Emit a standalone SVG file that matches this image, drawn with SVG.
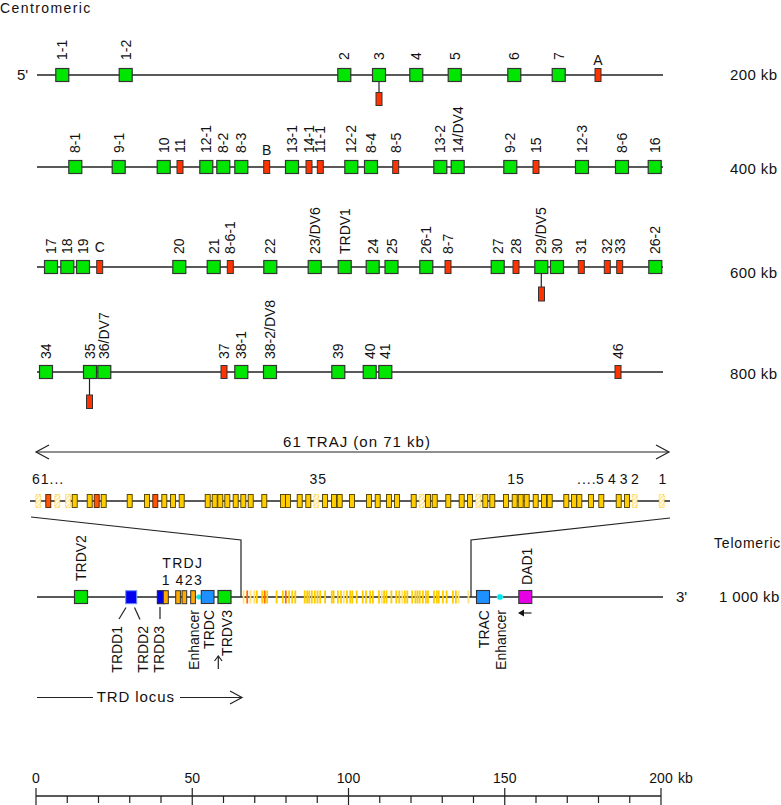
<svg xmlns="http://www.w3.org/2000/svg" width="781" height="805" viewBox="0 0 781 805">
<defs>
<pattern id="hatch" patternUnits="userSpaceOnUse" width="3" height="3" patternTransform="rotate(45)">
<rect width="3" height="3" fill="#fffbe6"/><line x1="0" y1="0" x2="0" y2="3" stroke="#ffd24d" stroke-width="1.4"/>
</pattern>
<style>
.bb{stroke:#222;stroke-width:1.4;fill:none}
.cn{stroke:#222;stroke-width:1.2;fill:none}
.g{fill:#00e600;stroke:#333;stroke-width:1.2}
.r{fill:#ff3300;stroke:#333;stroke-width:1}
.y{fill:#ffcc00;stroke:#4d3d00;stroke-width:0.9}
.o{fill:#ff5500;stroke:#4d2000;stroke-width:0.9}
.h{fill:url(#hatch);stroke:#ffd24d;stroke-width:0.9;stroke-dasharray:2 1}
.by{fill:#ffcc00}.bo{fill:#ff6a00}.bh{fill:#ffe27a}
.jd{fill:#ffaa00;stroke:#333;stroke-width:1}
.t{font-family:"Liberation Sans",Arial,sans-serif;font-size:14px;fill:#111}
.k{font-family:"Liberation Sans",Arial,sans-serif;font-size:15px;fill:#111}
</style>
</defs>
<rect width="781" height="805" fill="#fff"/>

<g id="headers">
<text class="t" x="0" y="13" letter-spacing="1.4">Centromeric</text>
<text class="t" x="714" y="548" letter-spacing="0.8">Telomeric</text>
<text class="k" x="17" y="80">5'</text>
<text class="k" x="676" y="602">3'</text>
<text class="k" x="730" y="80" letter-spacing="0.4">200 kb</text>
<text class="k" x="730" y="174" letter-spacing="0.4">400 kb</text>
<text class="k" x="730" y="278" letter-spacing="0.4">600 kb</text>
<text class="k" x="730" y="379" letter-spacing="0.4">800 kb</text>
<text class="k" x="719" y="602" letter-spacing="0.4">1 000 kb</text>
</g>

<g id="backbones">
<line class="bb" x1="37" y1="75" x2="663" y2="75"/>
<line class="bb" x1="37" y1="167" x2="663" y2="167"/>
<line class="bb" x1="37" y1="267" x2="663" y2="267"/>
<line class="bb" x1="37" y1="372" x2="663" y2="372"/>
<line class="bb" x1="30" y1="501" x2="670" y2="501"/>
<line class="bb" x1="37" y1="597" x2="663" y2="597"/>
</g>

<g id="connectors">
<line class="cn" x1="379" y1="81.5" x2="379" y2="92.5"/>
<line class="cn" x1="541.3" y1="273.5" x2="541.3" y2="287"/>
<line class="cn" x1="89.5" y1="378.5" x2="89.5" y2="395"/>
<polyline class="cn" points="31,517 241,540 241,597"/>
<polyline class="cn" points="670,518 471,540 471,597"/>
<line class="cn" x1="126" y1="607.5" x2="119" y2="619"/>
<line class="cn" x1="134.5" y1="607.5" x2="140" y2="619.5"/>
<line class="cn" x1="160" y1="607" x2="160" y2="619"/>
<line class="cn" x1="36" y1="452" x2="669" y2="452"/>
<polyline class="cn" points="49,445 36,452 49,459"/>
<polyline class="cn" points="656,445 669,452 656,459"/>
<line class="cn" x1="37" y1="697.5" x2="93" y2="697.5"/>
<line class="cn" x1="180" y1="697.5" x2="242" y2="697.5"/>
<polyline class="cn" points="230,691 242,697.5 230,704"/>
<line class="cn" x1="218.3" y1="669" x2="218.3" y2="656"/>
<polyline class="cn" points="214.5,661 218.3,656 222.1,661"/>
<line class="cn" x1="531.5" y1="613" x2="522" y2="613"/>
<polygon points="518,613 524,609.5 524,616.5" fill="#111"/>
</g>

<g id="row1">
<g id="TRAV1-1"><rect class="g" x="55.8" y="68.5" width="13" height="13"/><text class="t" transform="translate(67.3 60) rotate(-90)">1-1</text></g>
<g id="TRAV1-2"><rect class="g" x="119.2" y="68.5" width="13" height="13"/><text class="t" transform="translate(130.7 60) rotate(-90)">1-2</text></g>
<g id="TRAV2"><rect class="g" x="337.8" y="68.5" width="13" height="13"/><text class="t" transform="translate(349.3 60) rotate(-90)">2</text></g>
<g id="TRAV3"><rect class="g" x="372.5" y="68.5" width="13" height="13"/><text class="t" transform="translate(384 60) rotate(-90)">3</text><rect class="r" x="376" y="92.5" width="6" height="13"/></g>
<g id="TRAV4"><rect class="g" x="409.8" y="68.5" width="13" height="13"/><text class="t" transform="translate(421.3 60) rotate(-90)">4</text></g>
<g id="TRAV5"><rect class="g" x="448.2" y="68.5" width="13" height="13"/><text class="t" transform="translate(459.7 60) rotate(-90)">5</text></g>
<g id="TRAV6"><rect class="g" x="507.8" y="68.5" width="13" height="13"/><text class="t" transform="translate(519.3 60) rotate(-90)">6</text></g>
<g id="TRAV7"><rect class="g" x="552.2" y="68.5" width="13" height="13"/><text class="t" transform="translate(563.7 60) rotate(-90)">7</text></g>
<g id="TRAVA"><rect class="r" x="595" y="68.5" width="6" height="13"/><text class="t" x="598" y="65" text-anchor="middle">A</text></g>
</g>

<g id="row2">
<g id="TRAV8-1"><rect class="g" x="68.8" y="160.5" width="13" height="13"/><text class="t" transform="translate(80.3 153) rotate(-90)">8-1</text></g>
<g id="TRAV9-1"><rect class="g" x="112.2" y="160.5" width="13" height="13"/><text class="t" transform="translate(123.7 153) rotate(-90)">9-1</text></g>
<g id="TRAV10"><rect class="g" x="157.2" y="160.5" width="13" height="13"/><text class="t" transform="translate(168.7 153) rotate(-90)">10</text></g>
<g id="TRAV11"><rect class="r" x="177" y="160.5" width="6" height="13"/><text class="t" transform="translate(185 153) rotate(-90)">11</text></g>
<g id="TRAV12-1"><rect class="g" x="199.8" y="160.5" width="13" height="13"/><text class="t" transform="translate(211.3 153) rotate(-90)">12-1</text></g>
<g id="TRAV8-2"><rect class="g" x="216.8" y="160.5" width="13" height="13"/><text class="t" transform="translate(228.3 153) rotate(-90)">8-2</text></g>
<g id="TRAV8-3"><rect class="g" x="234.8" y="160.5" width="13" height="13"/><text class="t" transform="translate(246.3 153) rotate(-90)">8-3</text></g>
<g id="TRAVB"><rect class="r" x="263.7" y="160.5" width="6" height="13"/><text class="t" x="266.7" y="155" text-anchor="middle">B</text></g>
<g id="TRAV13-1"><rect class="g" x="285.5" y="160.5" width="13" height="13"/><text class="t" transform="translate(297 153) rotate(-90)">13-1</text></g>
<g id="TRAV14-1"><rect class="r" x="306" y="160.5" width="6" height="13"/><text class="t" transform="translate(314 153) rotate(-90)">14-1</text></g>
<g id="TRAV11-1"><rect class="r" x="317.3" y="160.5" width="6" height="13"/><text class="t" transform="translate(325.3 153) rotate(-90)">11-1</text></g>
<g id="TRAV12-2"><rect class="g" x="344.8" y="160.5" width="13" height="13"/><text class="t" transform="translate(356.3 153) rotate(-90)">12-2</text></g>
<g id="TRAV8-4"><rect class="g" x="364.5" y="160.5" width="13" height="13"/><text class="t" transform="translate(376 153) rotate(-90)">8-4</text></g>
<g id="TRAV8-5"><rect class="r" x="392.7" y="160.5" width="6" height="13"/><text class="t" transform="translate(400.7 153) rotate(-90)">8-5</text></g>
<g id="TRAV13-2"><rect class="g" x="433.8" y="160.5" width="13" height="13"/><text class="t" transform="translate(445.3 153) rotate(-90)">13-2</text></g>
<g id="TRAV14DV4"><rect class="g" x="451.2" y="160.5" width="13" height="13"/><text class="t" transform="translate(462.7 153) rotate(-90)">14/DV4</text></g>
<g id="TRAV9-2"><rect class="g" x="503.8" y="160.5" width="13" height="13"/><text class="t" transform="translate(515.3 153) rotate(-90)">9-2</text></g>
<g id="TRAV15"><rect class="r" x="533" y="160.5" width="6" height="13"/><text class="t" transform="translate(541 153) rotate(-90)">15</text></g>
<g id="TRAV12-3"><rect class="g" x="575.5" y="160.5" width="13" height="13"/><text class="t" transform="translate(587 153) rotate(-90)">12-3</text></g>
<g id="TRAV8-6"><rect class="g" x="615.5" y="160.5" width="13" height="13"/><text class="t" transform="translate(627 153) rotate(-90)">8-6</text></g>
<g id="TRAV16"><rect class="g" x="648.2" y="160.5" width="13" height="13"/><text class="t" transform="translate(659.7 153) rotate(-90)">16</text></g>
</g>

<g id="row3">
<g id="TRAV17"><rect class="g" x="44.5" y="260.5" width="13" height="13"/><text class="t" transform="translate(56 254) rotate(-90)">17</text></g>
<g id="TRAV18"><rect class="g" x="60.8" y="260.5" width="13" height="13"/><text class="t" transform="translate(72.3 254) rotate(-90)">18</text></g>
<g id="TRAV19"><rect class="g" x="76.5" y="260.5" width="13" height="13"/><text class="t" transform="translate(88 254) rotate(-90)">19</text></g>
<g id="TRAVC"><rect class="r" x="96.7" y="260.5" width="6" height="13"/><text class="t" x="99.7" y="252" text-anchor="middle">C</text></g>
<g id="TRAV20"><rect class="g" x="172.8" y="260.5" width="13" height="13"/><text class="t" transform="translate(184.3 254) rotate(-90)">20</text></g>
<g id="TRAV21"><rect class="g" x="207.2" y="260.5" width="13" height="13"/><text class="t" transform="translate(218.7 254) rotate(-90)">21</text></g>
<g id="TRAV8-6-1"><rect class="r" x="227.3" y="260.5" width="6" height="13"/><text class="t" transform="translate(235.3 254) rotate(-90)">8-6-1</text></g>
<g id="TRAV22"><rect class="g" x="263.8" y="260.5" width="13" height="13"/><text class="t" transform="translate(275.3 254) rotate(-90)">22</text></g>
<g id="TRAV23DV6"><rect class="g" x="308.2" y="260.5" width="13" height="13"/><text class="t" transform="translate(319.7 254) rotate(-90)">23/DV6</text></g>
<g id="TRDV1"><rect class="g" x="338.2" y="260.5" width="13" height="13"/><text class="t" transform="translate(349.7 254) rotate(-90)">TRDV1</text></g>
<g id="TRAV24"><rect class="g" x="366.2" y="260.5" width="13" height="13"/><text class="t" transform="translate(377.7 254) rotate(-90)">24</text></g>
<g id="TRAV25"><rect class="g" x="385" y="260.5" width="13" height="13"/><text class="t" transform="translate(396.5 254) rotate(-90)">25</text></g>
<g id="TRAV26-1"><rect class="g" x="419.8" y="260.5" width="13" height="13"/><text class="t" transform="translate(431.3 254) rotate(-90)">26-1</text></g>
<g id="TRAV8-7"><rect class="r" x="445" y="260.5" width="6" height="13"/><text class="t" transform="translate(453 254) rotate(-90)">8-7</text></g>
<g id="TRAV27"><rect class="g" x="491.2" y="260.5" width="13" height="13"/><text class="t" transform="translate(502.7 254) rotate(-90)">27</text></g>
<g id="TRAV28"><rect class="r" x="513" y="260.5" width="6" height="13"/><text class="t" transform="translate(521 254) rotate(-90)">28</text></g>
<g id="TRAV29DV5"><rect class="g" x="534.8" y="260.5" width="13" height="13"/><text class="t" transform="translate(546.3 254) rotate(-90)">29/DV5</text><rect class="r" x="538.5" y="287" width="6" height="14"/></g>
<g id="TRAV30"><rect class="g" x="550.5" y="260.5" width="13" height="13"/><text class="t" transform="translate(562 254) rotate(-90)">30</text></g>
<g id="TRAV31"><rect class="r" x="578.3" y="260.5" width="6" height="13"/><text class="t" transform="translate(586.3 254) rotate(-90)">31</text></g>
<g id="TRAV32"><rect class="r" x="604.3" y="260.5" width="6" height="13"/><text class="t" transform="translate(612.3 254) rotate(-90)">32</text></g>
<g id="TRAV33"><rect class="r" x="616.7" y="260.5" width="6" height="13"/><text class="t" transform="translate(624.7 254) rotate(-90)">33</text></g>
<g id="TRAV26-2"><rect class="g" x="648.8" y="260.5" width="13" height="13"/><text class="t" transform="translate(660.3 254) rotate(-90)">26-2</text></g>
</g>

<g id="row4">
<g id="TRAV34"><rect class="g" x="39.5" y="365.5" width="13" height="13"/><text class="t" transform="translate(51 359) rotate(-90)">34</text></g>
<g id="TRAV35"><rect class="g" x="83.5" y="365.5" width="13" height="13"/><text class="t" transform="translate(95 359) rotate(-90)">35</text><rect class="r" x="86.5" y="395" width="6" height="13.5"/></g>
<g id="TRAV36DV7"><rect class="g" x="97.8" y="365.5" width="13" height="13"/><text class="t" transform="translate(109.3 359) rotate(-90)">36/DV7</text></g>
<g id="TRAV37"><rect class="r" x="221" y="365.5" width="6" height="13"/><text class="t" transform="translate(229 359) rotate(-90)">37</text></g>
<g id="TRAV38-1"><rect class="g" x="234.8" y="365.5" width="13" height="13"/><text class="t" transform="translate(246.3 359) rotate(-90)">38-1</text></g>
<g id="TRAV38-2DV8"><rect class="g" x="263.5" y="365.5" width="13" height="13"/><text class="t" transform="translate(275 359) rotate(-90)">38-2/DV8</text></g>
<g id="TRAV39"><rect class="g" x="331.8" y="365.5" width="13" height="13"/><text class="t" transform="translate(343.3 359) rotate(-90)">39</text></g>
<g id="TRAV40"><rect class="g" x="363.2" y="365.5" width="13" height="13"/><text class="t" transform="translate(374.7 359) rotate(-90)">40</text></g>
<g id="TRAV41"><rect class="g" x="378.8" y="365.5" width="13" height="13"/><text class="t" transform="translate(390.3 359) rotate(-90)">41</text></g>
<g id="TRAV46"><rect class="r" x="615" y="365.5" width="6" height="13"/><text class="t" transform="translate(623 359) rotate(-90)">46</text></g>
</g>

<g id="TRAJ-cluster">
<text class="k" x="357" y="446.5" text-anchor="middle" letter-spacing="1">61 TRAJ (on 71 kb)</text>
<text class="t" x="32" y="484" letter-spacing="1">61...</text>
<text class="t" x="318.3" y="484" text-anchor="middle" letter-spacing="1">35</text>
<text class="t" x="516" y="484" text-anchor="middle" letter-spacing="1">15</text>
<text class="t" x="577" y="484" letter-spacing="1">....</text>
<text class="t" x="600" y="484" text-anchor="middle">5</text>
<text class="t" x="612" y="484" text-anchor="middle">4</text>
<text class="t" x="623.7" y="484" text-anchor="middle">3</text>
<text class="t" x="635" y="484" text-anchor="middle">2</text>
<text class="t" x="662.3" y="484" text-anchor="middle">1</text>
<g id="TRAJ-boxes">
<rect class="h" x="35.8" y="494.5" width="5" height="13"/>
<rect class="o" x="45.8" y="494.5" width="5" height="13"/>
<rect class="h" x="54.8" y="494.5" width="5" height="13"/>
<rect class="h" x="65.5" y="494.5" width="5" height="13"/>
<rect class="y" x="72.2" y="494.5" width="5" height="13"/>
<rect class="y" x="87.2" y="494.5" width="5" height="13"/>
<rect class="o" x="94.2" y="494.5" width="5" height="13"/>
<rect class="y" x="101.2" y="494.5" width="5" height="13"/>
<rect class="y" x="127.2" y="494.5" width="5" height="13"/>
<rect class="y" x="144.5" y="494.5" width="5" height="13"/>
<rect class="o" x="152.8" y="494.5" width="5" height="13"/>
<rect class="y" x="161.8" y="494.5" width="5" height="13"/>
<rect class="y" x="170.5" y="494.5" width="5" height="13"/>
<rect class="y" x="179.2" y="494.5" width="5" height="13"/>
<rect class="y" x="205.2" y="494.5" width="5" height="13"/>
<rect class="y" x="212.2" y="494.5" width="5" height="13"/>
<rect class="y" x="217.8" y="494.5" width="5" height="13"/>
<rect class="y" x="224.8" y="494.5" width="5" height="13"/>
<rect class="y" x="233.2" y="494.5" width="5" height="13"/>
<rect class="y" x="240.8" y="494.5" width="5" height="13"/>
<rect class="y" x="248.2" y="494.5" width="5" height="13"/>
<rect class="y" x="261.8" y="494.5" width="5" height="13"/>
<rect class="y" x="280.5" y="494.5" width="5" height="13"/>
<rect class="y" x="285.5" y="494.5" width="5" height="13"/>
<rect class="y" x="297.2" y="494.5" width="5" height="13"/>
<rect class="y" x="305.8" y="494.5" width="5" height="13"/>
<rect class="h" x="313.8" y="494.5" width="5" height="13"/>
<rect class="y" x="322.5" y="494.5" width="5" height="13"/>
<rect class="y" x="331.5" y="494.5" width="5" height="13"/>
<rect class="y" x="337.2" y="494.5" width="5" height="13"/>
<rect class="y" x="349.5" y="494.5" width="5" height="13"/>
<rect class="y" x="366.5" y="494.5" width="5" height="13"/>
<rect class="y" x="375.2" y="494.5" width="5" height="13"/>
<rect class="y" x="386.5" y="494.5" width="5" height="13"/>
<rect class="y" x="394.5" y="494.5" width="5" height="13"/>
<rect class="y" x="411.2" y="494.5" width="5" height="13"/>
<rect class="h" x="419.2" y="494.5" width="5" height="13"/>
<rect class="y" x="425.5" y="494.5" width="5" height="13"/>
<rect class="y" x="432.2" y="494.5" width="5" height="13"/>
<rect class="y" x="445.8" y="494.5" width="5" height="13"/>
<rect class="y" x="459.2" y="494.5" width="5" height="13"/>
<rect class="y" x="467.5" y="494.5" width="5" height="13"/>
<rect class="h" x="475.8" y="494.5" width="5" height="13"/>
<rect class="y" x="482.8" y="494.5" width="5" height="13"/>
<rect class="y" x="489.8" y="494.5" width="5" height="13"/>
<rect class="y" x="503.5" y="494.5" width="5" height="13"/>
<rect class="y" x="512.2" y="494.5" width="5" height="13"/>
<rect class="y" x="518.2" y="494.5" width="5" height="13"/>
<rect class="y" x="524.2" y="494.5" width="5" height="13"/>
<rect class="y" x="533.2" y="494.5" width="5" height="13"/>
<rect class="y" x="541.5" y="494.5" width="5" height="13"/>
<rect class="y" x="547.2" y="494.5" width="5" height="13"/>
<rect class="y" x="563.8" y="494.5" width="5" height="13"/>
<rect class="y" x="571.5" y="494.5" width="5" height="13"/>
<rect class="y" x="576.8" y="494.5" width="5" height="13"/>
<rect class="y" x="588.5" y="494.5" width="5" height="13"/>
<rect class="y" x="598.8" y="494.5" width="5" height="13"/>
<rect class="y" x="616.2" y="494.5" width="5" height="13"/>
<rect class="y" x="624.5" y="494.5" width="5" height="13"/>
<rect class="h" x="632.2" y="494.5" width="5" height="13"/>
<rect class="h" x="659.2" y="494.5" width="5" height="13"/>
</g>
</g>

<g id="TRAJ-compressed">
<rect class="bh" x="242.7" y="590.5" width="1.8" height="13"/>
<rect class="bo" x="246.3" y="590.5" width="1.8" height="13"/>
<rect class="bh" x="249.6" y="590.5" width="1.8" height="13"/>
<rect class="bh" x="253.4" y="590.5" width="1.8" height="13"/>
<rect class="by" x="255.9" y="590.5" width="1.8" height="13"/>
<rect class="by" x="261.3" y="590.5" width="1.8" height="13"/>
<rect class="bo" x="263.8" y="590.5" width="1.8" height="13"/>
<rect class="by" x="266.3" y="590.5" width="1.8" height="13"/>
<rect class="by" x="275.7" y="590.5" width="1.8" height="13"/>
<rect class="by" x="281.9" y="590.5" width="1.8" height="13"/>
<rect class="bo" x="284.9" y="590.5" width="1.8" height="13"/>
<rect class="by" x="288.2" y="590.5" width="1.8" height="13"/>
<rect class="by" x="291.3" y="590.5" width="1.8" height="13"/>
<rect class="by" x="294.4" y="590.5" width="1.8" height="13"/>
<rect class="by" x="303.8" y="590.5" width="1.8" height="13"/>
<rect class="by" x="306.3" y="590.5" width="1.8" height="13"/>
<rect class="by" x="308.3" y="590.5" width="1.8" height="13"/>
<rect class="by" x="310.9" y="590.5" width="1.8" height="13"/>
<rect class="by" x="313.9" y="590.5" width="1.8" height="13"/>
<rect class="by" x="316.6" y="590.5" width="1.8" height="13"/>
<rect class="by" x="319.3" y="590.5" width="1.8" height="13"/>
<rect class="by" x="324.2" y="590.5" width="1.8" height="13"/>
<rect class="by" x="330.9" y="590.5" width="1.8" height="13"/>
<rect class="by" x="332.7" y="590.5" width="1.8" height="13"/>
<rect class="by" x="337" y="590.5" width="1.8" height="13"/>
<rect class="by" x="340.1" y="590.5" width="1.8" height="13"/>
<rect class="bh" x="342.9" y="590.5" width="1.8" height="13"/>
<rect class="by" x="346.1" y="590.5" width="1.8" height="13"/>
<rect class="by" x="349.3" y="590.5" width="1.8" height="13"/>
<rect class="by" x="351.4" y="590.5" width="1.8" height="13"/>
<rect class="by" x="355.8" y="590.5" width="1.8" height="13"/>
<rect class="by" x="361.9" y="590.5" width="1.8" height="13"/>
<rect class="by" x="365.1" y="590.5" width="1.8" height="13"/>
<rect class="by" x="369.2" y="590.5" width="1.8" height="13"/>
<rect class="by" x="372" y="590.5" width="1.8" height="13"/>
<rect class="by" x="378.1" y="590.5" width="1.8" height="13"/>
<rect class="bh" x="380.9" y="590.5" width="1.8" height="13"/>
<rect class="by" x="383.2" y="590.5" width="1.8" height="13"/>
<rect class="by" x="385.6" y="590.5" width="1.8" height="13"/>
<rect class="by" x="390.5" y="590.5" width="1.8" height="13"/>
<rect class="by" x="395.4" y="590.5" width="1.8" height="13"/>
<rect class="by" x="398.4" y="590.5" width="1.8" height="13"/>
<rect class="bh" x="401.4" y="590.5" width="1.8" height="13"/>
<rect class="by" x="403.9" y="590.5" width="1.8" height="13"/>
<rect class="by" x="406.4" y="590.5" width="1.8" height="13"/>
<rect class="by" x="411.3" y="590.5" width="1.8" height="13"/>
<rect class="by" x="414.5" y="590.5" width="1.8" height="13"/>
<rect class="by" x="416.6" y="590.5" width="1.8" height="13"/>
<rect class="by" x="418.8" y="590.5" width="1.8" height="13"/>
<rect class="by" x="422" y="590.5" width="1.8" height="13"/>
<rect class="by" x="425" y="590.5" width="1.8" height="13"/>
<rect class="by" x="427.1" y="590.5" width="1.8" height="13"/>
<rect class="by" x="433.1" y="590.5" width="1.8" height="13"/>
<rect class="by" x="435.9" y="590.5" width="1.8" height="13"/>
<rect class="by" x="437.8" y="590.5" width="1.8" height="13"/>
<rect class="by" x="442" y="590.5" width="1.8" height="13"/>
<rect class="by" x="445.7" y="590.5" width="1.8" height="13"/>
<rect class="by" x="452" y="590.5" width="1.8" height="13"/>
<rect class="by" x="455" y="590.5" width="1.8" height="13"/>
<rect class="bh" x="457.7" y="590.5" width="1.8" height="13"/>
<rect class="bh" x="467.5" y="590.5" width="1.8" height="13"/>
</g>

<g id="TRDV2"><rect class="g" x="74.5" y="590.5" width="13" height="13"/><text class="t" transform="translate(86 581) rotate(-90)">TRDV2</text></g>
<g id="TRDD1-2"><rect x="125.7" y="590.7" width="11" height="13" fill="#0000ee" stroke="#6f8fff" stroke-width="1"/>
<text class="t" transform="translate(122.3 626) rotate(-90)" text-anchor="end">TRDD1</text>
<text class="t" transform="translate(147.7 626) rotate(-90)" text-anchor="end">TRDD2</text></g>
<g id="TRDD3"><rect x="157.3" y="590.7" width="7" height="13" fill="#0000ee" stroke="#222" stroke-width="1"/>
<text class="t" transform="translate(164.3 626) rotate(-90)" text-anchor="end">TRDD3</text></g>
<g id="TRDJ">
<text class="t" x="162.3" y="567.5" letter-spacing="1.3">TRDJ</text>
<text class="t" x="165.7" y="585" text-anchor="middle">1</text>
<text class="t" x="175.5" y="585" letter-spacing="1.5">423</text>
<rect class="jd" x="163.3" y="590.7" width="5" height="13"/>
<rect class="jd" x="175.7" y="590.7" width="4.7" height="13"/>
<rect class="jd" x="182" y="590.7" width="4.7" height="13"/>
<rect class="jd" x="190.7" y="590.7" width="4.7" height="13"/>
</g>
<g id="TRD-enhancer"><circle cx="199" cy="597" r="2.6" fill="#00e5ee" stroke="#7ff" stroke-width="0.6"/>
<text class="t" transform="translate(199.3 610) rotate(-90)" text-anchor="end">Enhancer</text></g>
<g id="TRDC"><rect x="201.3" y="590.5" width="12.7" height="13" fill="#1e90ff" stroke="#333" stroke-width="1.1"/>
<text class="t" transform="translate(214.3 610) rotate(-90)" text-anchor="end">TRDC</text></g>
<g id="TRDV3"><rect class="g" x="218" y="590.5" width="13" height="13"/>
<text class="t" transform="translate(231.7 610) rotate(-90)" text-anchor="end">TRDV3</text></g>
<g id="TRAC"><rect x="476.5" y="590.5" width="13" height="13" fill="#1e90ff" stroke="#333" stroke-width="1.1"/>
<text class="t" transform="translate(489 610) rotate(-90)" text-anchor="end">TRAC</text></g>
<g id="TRA-enhancer"><circle cx="500" cy="597" r="3" fill="#00e5ee" stroke="#7ff" stroke-width="0.6"/>
<text class="t" transform="translate(506 610) rotate(-90)" text-anchor="end">Enhancer</text></g>
<g id="DAD1"><rect x="518.8" y="590.5" width="13" height="13" fill="#e600e6" stroke="#333" stroke-width="1.1"/>
<text class="t" transform="translate(531.5 585) rotate(-90)">DAD1</text></g>
<g id="TRD-locus"><text class="k" x="96.7" y="702" letter-spacing="0.9">TRD locus</text></g>

<g id="scale">
<line class="bb" x1="36" y1="796" x2="661" y2="796"/>
<path class="cn" d="M36 788V805M67.25 796V803M98.5 796V803M129.75 796V803M161 796V803M192.25 788V805M223.5 796V803M254.75 796V803M286 796V803M317.25 796V803M348.5 788V805M379.75 796V803M411 796V803M442.25 796V803M473.5 796V803M504.75 788V805M536 796V803M567.25 796V803M598.5 796V803M629.75 796V803M661 788V805"/>
<text class="t" x="36" y="783" text-anchor="middle">0</text>
<text class="t" x="192.25" y="783" text-anchor="middle">50</text>
<text class="t" x="348.5" y="783" text-anchor="middle">100</text>
<text class="t" x="504.75" y="783" text-anchor="middle">150</text>
<text class="t" x="661" y="783" text-anchor="middle">200</text>
<text class="t" x="678" y="783">kb</text>
</g>
</svg>
